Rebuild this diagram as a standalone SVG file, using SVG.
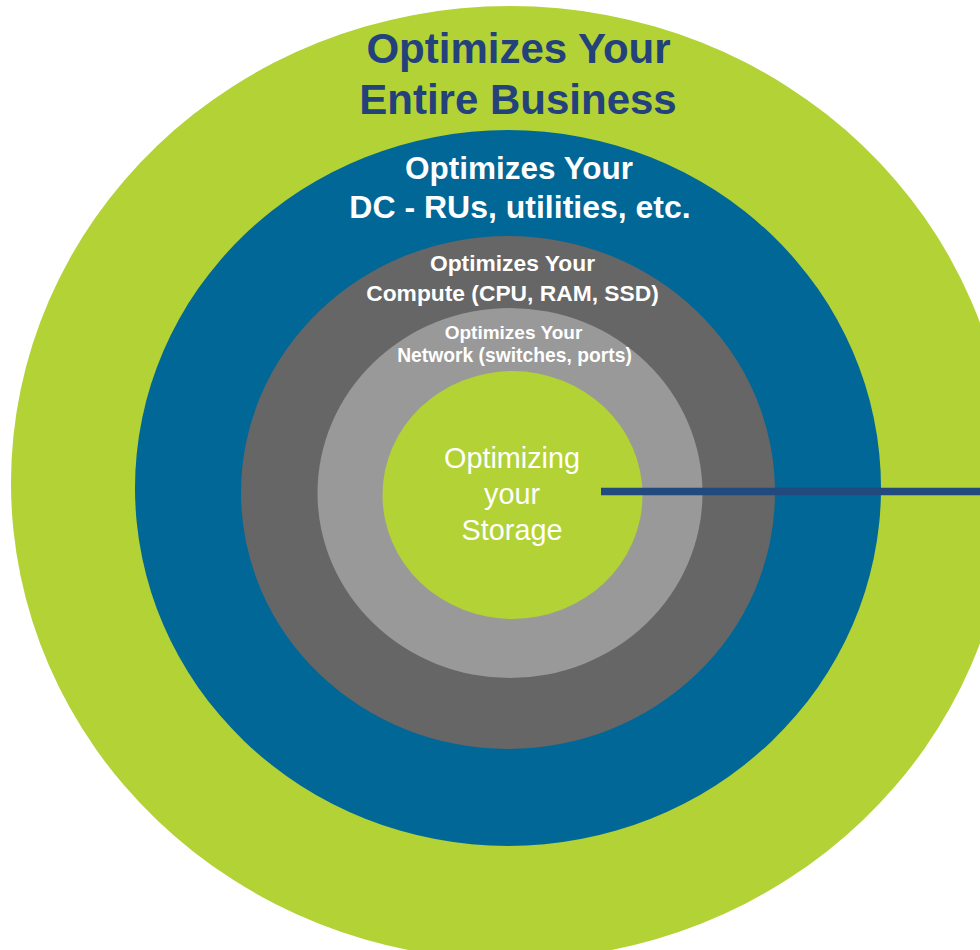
<svg xmlns="http://www.w3.org/2000/svg" width="980" height="950" viewBox="0 0 980 950">
<style>
.t{font-family:"Liberation Sans",Arial,sans-serif;text-anchor:middle;font-weight:bold}
.w{fill:#ffffff}
.r{font-weight:normal}
</style>
<rect width="980" height="950" fill="#ffffff"/>
<g id="business">
<ellipse cx="510" cy="483" rx="499" ry="477" fill="#b2d235"/>
<text class="t" x="518.5" y="63" font-size="42" fill="#23417a">Optimizes Your</text>
<text class="t" x="518" y="114" font-size="42" fill="#23417a">Entire Business</text>
</g>
<g id="dc">
<ellipse cx="508" cy="488" rx="373" ry="358" fill="#006797"/>
<text class="t w" x="519" y="179" font-size="31.5">Optimizes Your</text>
<text class="t w" x="520" y="218" font-size="32">DC - RUs, utilities, etc.</text>
</g>
<g id="compute">
<ellipse cx="508" cy="492.5" rx="267" ry="256.5" fill="#666666"/>
<text class="t w" x="512.5" y="271" font-size="22.8">Optimizes Your</text>
<text class="t w" x="512.5" y="301" font-size="22.8">Compute (CPU, RAM, SSD)</text>
</g>
<g id="network">
<ellipse cx="510" cy="493" rx="192.5" ry="185" fill="#999999"/>
<text class="t w" x="513.5" y="339" font-size="19">Optimizes Your</text>
<text class="t w" x="514.5" y="362" font-size="19.3">Network (switches, ports)</text>
</g>
<g id="storage">
<ellipse cx="512.5" cy="495" rx="130" ry="124" fill="#b2d235"/>
<text class="t w r" x="512" y="468" font-size="28.8">Optimizing</text>
<text class="t w r" x="512" y="504" font-size="28.8">your</text>
<text class="t w r" x="512" y="540" font-size="28.8">Storage</text>
</g>
<g id="connectors">
<line x1="601" y1="491.5" x2="980" y2="491.5" stroke="#224a7e" stroke-width="7.5"/>
</g>
</svg>
